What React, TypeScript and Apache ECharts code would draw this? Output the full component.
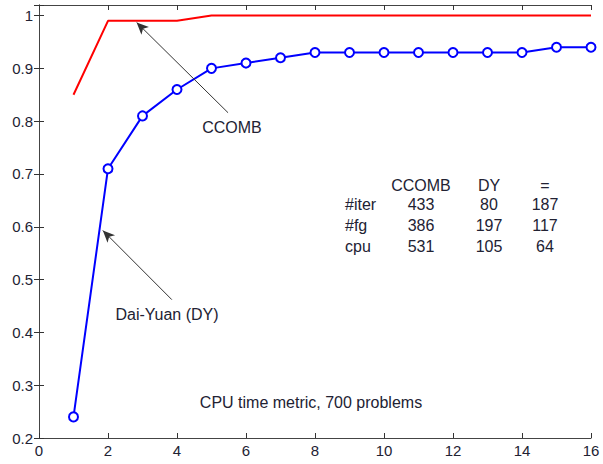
import React, { useEffect, useRef } from "react";
import * as echarts from "echarts";

const xValues = [1, 2, 3, 4, 5, 6, 7, 8, 9, 10, 11, 12, 13, 14, 15, 16];
const ccomb = [0.85, 0.99, 0.99, 0.99, 1.0, 1.0, 1.0, 1.0, 1.0, 1.0, 1.0, 1.0, 1.0, 1.0, 1.0, 1.0];
const daiYuan = [0.24, 0.71, 0.81, 0.86, 0.9, 0.91, 0.92, 0.93, 0.93, 0.93, 0.93, 0.93, 0.93, 0.93, 0.94, 0.94];

// arrows: [from (text end), to (tip)] in data coordinates
const ccombArrow = [[5.48, 0.816], [2.83, 0.987]];
const dyArrow = [[3.85, 0.462], [1.85, 0.593]];

const tableHeader = ["CCOMB", "DY", "="];
const tableRows = ["#iter", "#fg", "cpu"];
const tableCCOMB = [433, 386, 531];
const tableDY = [80, 197, 105];
const tableEq = [187, 117, 64];

const FONT = "Liberation Sans";
const TXT = "#222233";

export default function App() {
  const ref = useRef<HTMLDivElement>(null);
  useEffect(() => {
    const chart = echarts.init(ref.current!, undefined, { renderer: "svg" });
    const axisLine = { show: true, lineStyle: { color: "#444", width: 1 } };
    const tick = { show: true, inside: true, length: 5, lineStyle: { color: "#333" } };
    const label = { color: TXT, fontSize: 15, fontFamily: FONT };

    const txt = (text: string, x: number, y: number, align = "center") => ({
      type: "text", x, y,
      style: { text, fill: TXT, fontSize: 16, fontFamily: FONT, align, verticalAlign: "middle" },
    });

    const graphics: any[] = [
      txt("CCOMB", 232, 127),
      txt("Dai-Yuan (DY)", 167, 314),
      txt("CPU time metric, 700 problems", 311, 402),
    ];
    const colX = [421, 489, 545];
    tableHeader.forEach((h, i) => graphics.push(txt(h, colX[i], 185)));
    tableRows.forEach((r, j) => {
      const y = 204 + j * 21;
      graphics.push(txt(r, 345, y, "left"));
      [tableCCOMB[j], tableDY[j], tableEq[j]].forEach((v, i) => graphics.push(txt(String(v), colX[i], y)));
    });

    const arrowMark = (a: number[][]) => ({
      silent: true,
      symbol: ["none", "arrow"],
      symbolSize: [8, 12],
      lineStyle: { color: "#333", width: 1, type: "solid" },
      itemStyle: { color: "#000" },
      label: { show: false },
      data: [[{ coord: a[0] }, { coord: a[1] }]],
    });

    chart.setOption({
      animation: false,
      backgroundColor: "#fff",
      grid: { left: 39, right: 12, top: 5, bottom: 26, containLabel: false },
      xAxis: [
        {
          type: "value", min: 0, max: 16, interval: 2, position: "bottom",
          axisLine, axisTick: tick, splitLine: { show: false },
          axisLabel: { ...label, margin: 5 },
        },
        {
          type: "value", min: 0, max: 16, interval: 2, position: "top",
          axisLine, axisTick: tick, splitLine: { show: false }, axisLabel: { show: false },
        },
      ],
      yAxis: [
        {
          type: "value", min: 0.2, max: 1.02, interval: 0.1, position: "left",
          axisLine, axisTick: tick, splitLine: { show: false },
          axisLabel: {
            ...label, margin: 6,
            formatter: (v: number) => (Math.abs(v - 1.02) < 1e-6 ? "" : String(Math.round(v * 10) / 10)),
          },
        },
        {
          type: "value", min: 0.2, max: 1.02, interval: 0.1, position: "right",
          axisLine, axisTick: tick, splitLine: { show: false }, axisLabel: { show: false },
        },
      ],
      series: [
        {
          name: "CCOMB", type: "line", xAxisIndex: 0, yAxisIndex: 0,
          data: xValues.map((x, i) => [x, ccomb[i]]),
          showSymbol: false, symbol: "none",
          lineStyle: { color: "#ff0000", width: 2 },
          markLine: arrowMark(ccombArrow),
        },
        {
          name: "DY", type: "line", xAxisIndex: 0, yAxisIndex: 0,
          data: xValues.map((x, i) => [x, daiYuan[i]]),
          symbol: "circle", symbolSize: 9, showSymbol: true,
          lineStyle: { color: "#0000ff", width: 2 },
          itemStyle: { color: "#ffffff", borderColor: "#0000ff", borderWidth: 2 },
          markLine: arrowMark(dyArrow),
        },
      ],
      graphic: graphics,
    });
    return () => chart.dispose();
  }, []);
  return <div ref={ref} style={{ position: "fixed", left: 0, top: 0, width: 603, height: 464 }} />;
}
